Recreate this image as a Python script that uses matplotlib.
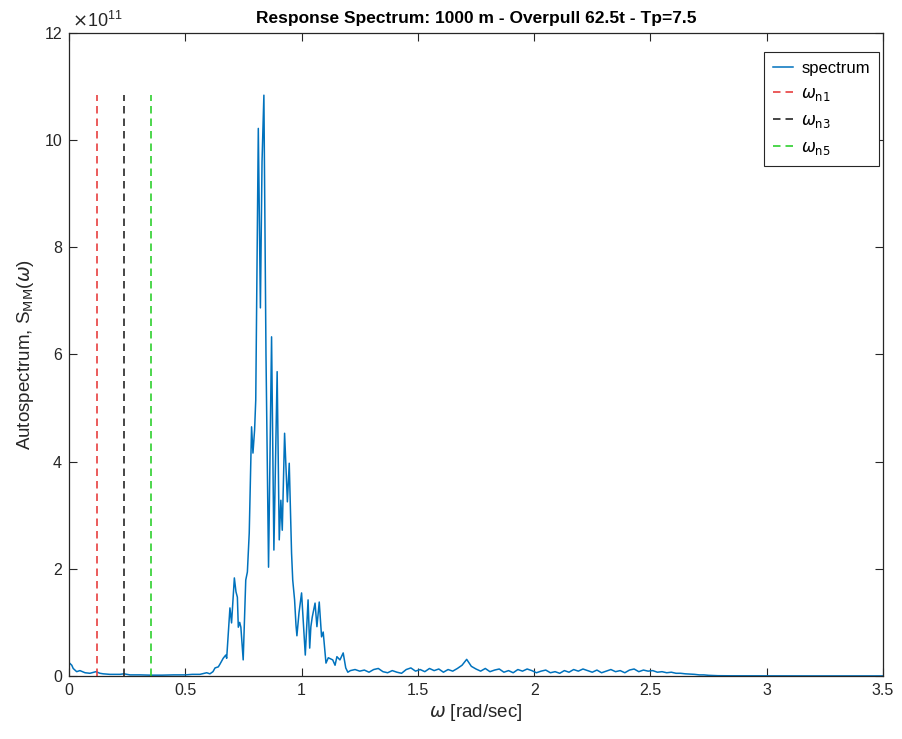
import numpy as np
import matplotlib
matplotlib.use("Agg")
import matplotlib.pyplot as plt
from matplotlib.ticker import FuncFormatter

plt.rcParams["font.family"] = ["Liberation Sans", "DejaVu Sans"]
plt.rcParams["mathtext.fontset"] = "dejavusans"

# Response autospectrum (values in units of 1e11)
omega_low = [0.000, 0.012, 0.018, 0.033, 0.047, 0.069, 0.090, 0.116, 0.133, 0.147,
             0.176, 0.219, 0.236, 0.262, 0.305, 0.350, 0.400, 0.450, 0.500, 0.530,
             0.563, 0.592, 0.606, 0.619, 0.628, 0.642, 0.649, 0.663, 0.674, 0.678]
s_low = [0.25, 0.20, 0.14, 0.08, 0.10, 0.06, 0.05, 0.08, 0.05, 0.04,
         0.03, 0.03, 0.04, 0.02, 0.02, 0.015, 0.015, 0.02, 0.02, 0.03,
         0.03, 0.06, 0.04, 0.08, 0.15, 0.17, 0.22, 0.33, 0.39, 0.33]

omega_peak = [0.685, 0.692, 0.699, 0.711, 0.718, 0.724, 0.728, 0.734, 0.739, 0.749,
              0.760, 0.767, 0.775, 0.785, 0.791, 0.798, 0.803, 0.814, 0.823, 0.830,
              0.838, 0.847, 0.858, 0.871, 0.881, 0.895, 0.904, 0.911, 0.917, 0.927,
              0.939, 0.947, 0.957, 0.962, 0.970, 0.976, 0.980, 0.989, 1.000, 1.016,
              1.028, 1.035, 1.040, 1.046, 1.058, 1.066, 1.076, 1.086, 1.093, 1.105,
              1.115, 1.134, 1.144, 1.152, 1.165, 1.179, 1.190, 1.199]
s_peak = [0.80, 1.27, 0.99, 1.83, 1.57, 1.47, 0.91, 1.00, 0.91, 0.30,
          1.79, 1.94, 2.67, 4.65, 4.16, 4.59, 5.15, 10.22, 6.87, 9.60,
          10.84, 6.00, 2.03, 6.33, 2.35, 5.68, 2.54, 3.28, 2.72, 4.53,
          3.25, 3.97, 2.29, 1.79, 1.42, 0.95, 0.75, 1.18, 1.55, 0.39,
          1.42, 0.52, 0.92, 1.10, 1.36, 0.92, 1.38, 0.73, 0.82, 0.24,
          0.34, 0.30, 0.20, 0.36, 0.30, 0.43, 0.15, 0.07]

omega_tail = [1.21, 1.23, 1.25, 1.27, 1.29, 1.31, 1.33, 1.35, 1.37, 1.39,
              1.41, 1.43, 1.45, 1.47, 1.49, 1.51, 1.53, 1.55, 1.57, 1.59,
              1.61, 1.63, 1.65, 1.67, 1.69, 1.71, 1.73, 1.75, 1.77, 1.79,
              1.81, 1.83, 1.85, 1.87, 1.89, 1.91, 1.93, 1.95, 1.97, 1.99,
              2.01, 2.03, 2.05, 2.07, 2.09, 2.11, 2.13, 2.15, 2.17, 2.19,
              2.21, 2.23, 2.25, 2.27, 2.29, 2.31, 2.33, 2.35, 2.37, 2.39,
              2.41, 2.43, 2.45, 2.47, 2.49, 2.51, 2.53, 2.55, 2.57, 2.59,
              2.61, 2.63, 2.65, 2.67, 2.69, 2.71, 2.73, 2.75, 2.77, 2.79,
              2.85, 3.00, 3.20, 3.50]
s_tail = [0.10, 0.12, 0.09, 0.11, 0.07, 0.12, 0.14, 0.08, 0.06, 0.10,
          0.07, 0.05, 0.12, 0.15, 0.09, 0.12, 0.08, 0.14, 0.10, 0.13,
          0.07, 0.12, 0.09, 0.14, 0.20, 0.31, 0.18, 0.13, 0.09, 0.14,
          0.08, 0.11, 0.13, 0.07, 0.10, 0.06, 0.12, 0.09, 0.13, 0.10,
          0.06, 0.09, 0.11, 0.06, 0.08, 0.05, 0.10, 0.07, 0.12, 0.09,
          0.13, 0.10, 0.07, 0.11, 0.06, 0.09, 0.12, 0.08, 0.10, 0.06,
          0.11, 0.13, 0.08, 0.11, 0.09, 0.10, 0.07, 0.08, 0.06, 0.07,
          0.05, 0.05, 0.04, 0.035, 0.03, 0.02, 0.02, 0.012, 0.008, 0.005,
          0.003, 0.002, 0.001, 0.001]

# Natural frequencies of modes 1, 3, 5 (rad/sec)
natural_freqs = [0.120, 0.237, 0.353]
natural_labels = [r"$\omega_{\mathrm{n1}}$", r"$\omega_{\mathrm{n3}}$", r"$\omega_{\mathrm{n5}}$"]
natural_colors = ["#e8403f", "#262626", "#2fd02f"]

x_ticks = [0, 0.5, 1, 1.5, 2, 2.5, 3, 3.5]
x_tick_labels = ["0", "0.5", "1", "1.5", "2", "2.5", "3", "3.5"]
y_ticks_scaled = [0, 2, 4, 6, 8, 10, 12]
y_scale = 1e11

omega = np.array(omega_low + omega_peak + omega_tail)
spec = np.array(s_low + s_peak + s_tail) * y_scale

fig = plt.figure(figsize=(9.02, 7.39), dpi=100)
ax = fig.add_axes([0.0765, 0.0853, 0.9024, 0.870])

ax.plot(omega, spec, color="#0072BD", lw=1.1, label="spectrum")
top = spec.max()
for w, lab, c in zip(natural_freqs, natural_labels, natural_colors):
    ax.plot([w, w], [0, top], color=c, lw=1.2, linestyle=(0, (4.5, 3)), label=lab)

ax.set_xlim(0, 3.5)
ax.set_ylim(0, 12 * y_scale)
ax.set_xticks(x_ticks)
ax.set_xticklabels(x_tick_labels)
ax.set_yticks([v * y_scale for v in y_ticks_scaled])
ax.yaxis.set_major_formatter(FuncFormatter(lambda v, p: f"{v / y_scale:g}"))

axis_col = "#262626"
for sp in ax.spines.values():
    sp.set_color(axis_col)
    sp.set_linewidth(0.9)
ax.tick_params(direction="in", length=6, width=0.8, colors=axis_col,
               labelsize=11.5, top=True, right=True, pad=5)

ax.text(0.004, 1.003, r"$\times\mathregular{10}^{\mathregular{11}}$", transform=ax.transAxes,
        ha="left", va="bottom", fontsize=13, color=axis_col)

ax.set_title("Response Spectrum: 1000 m - Overpull 62.5t - Tp=7.5",
             fontsize=12.5, fontweight="bold", color="black", pad=7)
ax.set_xlabel(r"$\omega$ [rad/sec]", fontsize=13.5, color=axis_col, labelpad=3)
ax.set_ylabel(r"Autospectrum, S$_{\mathrm{MM}}$($\omega$)", fontsize=13.5,
              color=axis_col, labelpad=6)

leg = ax.legend(loc="upper right", bbox_to_anchor=(0.995, 0.9705), fontsize=12,
                frameon=True, fancybox=False, edgecolor=axis_col, framealpha=1,
                handlelength=1.2, borderaxespad=0.0, labelspacing=0.6,
                handletextpad=0.5, borderpad=0.55)
leg.get_frame().set_linewidth(0.8)

fig.savefig("out.png", dpi=100)
